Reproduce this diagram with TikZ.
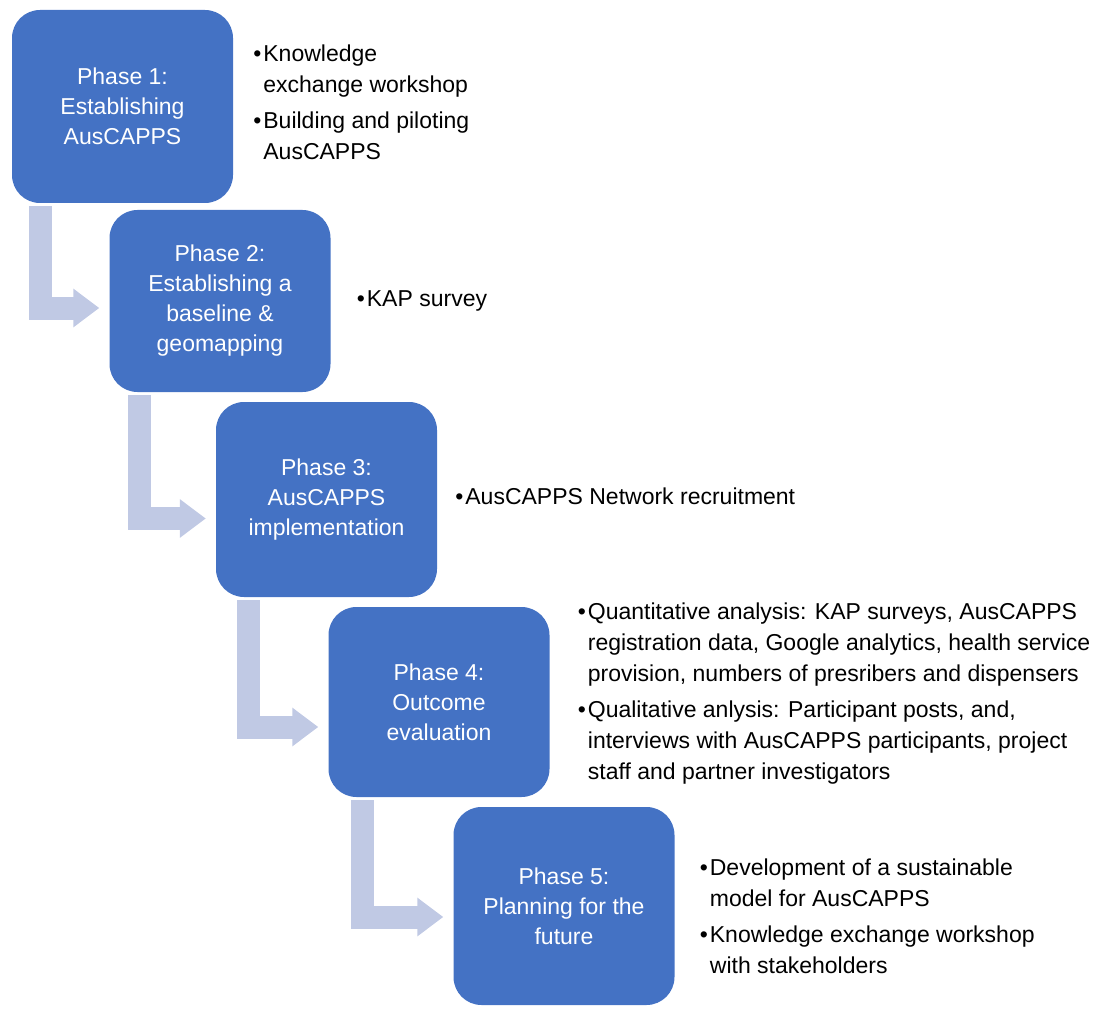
\documentclass[tikz,border=0pt]{standalone}
\usepackage{fontspec}
\setmainfont{Liberation Sans}
\usetikzlibrary{positioning,arrows.meta}
\definecolor{phaseblue}{RGB}{68,114,196}
\definecolor{steparrow}{RGB}{192,201,228}
\newcommand{\bl}{\makebox[10pt][l]{\textbullet}}

\begin{document}
\begin{tikzpicture}[x=1pt,y=-1pt,
    phase node/.style={fill=phaseblue,rounded corners=28pt,minimum width=221pt,inner sep=0pt,text=white,align=center,font=\fontsize{23}{30}\selectfont},
    note node/.style={inner sep=0pt,font=\fontsize{23}{31}\selectfont},
    bent arrow/.style={draw=steparrow,line width=23pt,line join=miter,shorten <=3pt,shorten >=10pt,-{Triangle[width=37pt,length=26pt]}}]

    \useasboundingbox (0,0) rectangle (1111,1011);

    % phases
    \node[phase node,minimum height=193pt] (p1) at (122.5,106.5) {Phase 1:\\Establishing\\AusCAPPS};
    \node[phase node,minimum height=182pt] (p2) at (220,301) {Phase 2:\\Establishing a\\baseline \&\\geomapping};
    \node[phase node,minimum height=195pt] (p3) at (326.5,499.5) {Phase 3:\\AusCAPPS\\implementation};
    \node[phase node,minimum height=190pt] (p4) at (439,702) {Phase 4:\\Outcome\\evaluation};
    \node[phase node,minimum height=198pt] (p5) at (564,906) {Phase 5:\\Planning for the\\future};

    % activities
    \node[note node,right=20pt of p1,yshift=2.5pt] (n1) {\begin{tabular}{@{}l@{}}
        \bl Knowledge\\
        \phantom{\bl}exchange workshop\\[5pt]
        \bl Building and piloting\\
        \phantom{\bl}AusCAPPS
    \end{tabular}};
    \node[note node,right=26pt of p2] (n2) {\bl KAP survey};
    \node[note node,right=18pt of p3,yshift=3pt] (n3) {\bl AusCAPPS Network recruitment};
    \node[note node,right=28pt of p4,yshift=9pt] (n4) {\begin{tabular}{@{}l@{}}
        \bl Quantitative analysis: KAP surveys, AusCAPPS\\
        \phantom{\bl}registration data, Google analytics, health service\\
        \phantom{\bl}provision, numbers of presribers and dispensers\\[5pt]
        \bl Qualitative anlysis: Participant posts, and,\\
        \phantom{\bl}interviews with AusCAPPS participants, project\\
        \phantom{\bl}staff and partner investigators
    \end{tabular}};
    \node[note node,right=25pt of p5,yshift=-12pt] (n5) {\begin{tabular}{@{}l@{}}
        \bl Development of a sustainable\\
        \phantom{\bl}model for AusCAPPS\\[5pt]
        \bl Knowledge exchange workshop\\
        \phantom{\bl}with stakeholders
    \end{tabular}};

    % steps
    \draw[bent arrow] ([xshift=29pt]p1.south west) |- ([yshift=-7pt]p2.west);
    \draw[bent arrow] ([xshift=30pt]p2.south west) |- ([yshift=-19pt]p3.west);
    \draw[bent arrow] ([xshift=33pt]p3.south west) |- ([yshift=-25pt]p4.west);
    \draw[bent arrow] ([xshift=34pt]p4.south west) |- ([yshift=-11pt]p5.west);
\end{tikzpicture}
\end{document}
